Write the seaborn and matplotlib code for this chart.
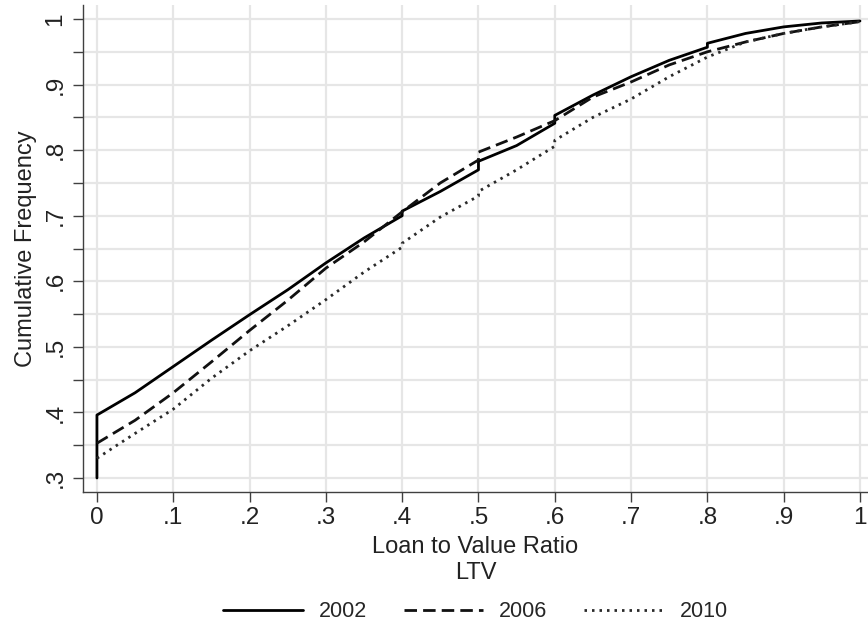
import pandas as pd
import matplotlib
matplotlib.use("Agg")
import matplotlib.pyplot as plt
import seaborn as sns
from matplotlib.ticker import MultipleLocator

################# Data #################

years = ["2002", "2006", "2010"]

ltv_2002 = [0, 0, .05, .1, .15, .2, .25, .3, .35, .4, .4, .45, .5, .5, .55,
            .6, .6, .65, .7, .75, .8, .8, .85, .9, .95, 1]
cum_2002 = [.300, .396, .430, .470, .510, .549, .587, .628, .666, .700, .707,
            .737, .770, .783, .807, .841, .853, .884, .912, .937, .957, .963,
            .978, .988, .994, .997]

ltv_2006 = [0, .05, .1, .15, .2, .25, .3, .35, .4, .45, .5, .5, .55, .6, .65,
            .7, .75, .8, .85, .9, .95, 1]
cum_2006 = [.353, .388, .430, .477, .525, .571, .620, .660, .706, .750, .785,
            .797, .820, .845, .881, .904, .930, .950, .965, .978, .988, .996]

ltv_2010 = [0, .05, .1, .15, .2, .25, .3, .35, .4, .4, .45, .5, .5, .55, .6,
            .6, .65, .7, .75, .8, .85, .9, .95, 1]
cum_2010 = [.330, .368, .405, .452, .494, .532, .572, .614, .652, .658, .698,
            .730, .737, .770, .806, .815, .850, .878, .912, .942, .965, .978,
            .988, .996]

x_ticks = [0, .1, .2, .3, .4, .5, .6, .7, .8, .9, 1]
x_labels = ["0", ".1", ".2", ".3", ".4", ".5", ".6", ".7", ".8", ".9", "1"]
y_ticks = [.3, .4, .5, .6, .7, .8, .9, 1]
y_labels = [".3", ".4", ".5", ".6", ".7", ".8", ".9", "1"]

# long table for seaborn
frames = []
for yr, xs, ys in zip(years, [ltv_2002, ltv_2006, ltv_2010],
                      [cum_2002, cum_2006, cum_2010]):
    frames.append(pd.DataFrame({"LTV": xs, "cum": ys, "year": yr}))
df = pd.concat(frames, ignore_index=True)

################# Plot #################

sns.set_theme(style="white")
plt.rcParams["font.family"] = ["Liberation Sans", "DejaVu Sans"]

fig = plt.figure(figsize=(8.68, 6.24), dpi=100)
ax = fig.add_axes([0.0956, 0.2115, 0.9044, 0.7805])

sns.lineplot(data=df, x="LTV", y="cum", hue="year", style="year",
             estimator=None, sort=False, ax=ax,
             palette={"2002": "black", "2006": "#111111", "2010": "#2a2a2a"},
             dashes={"2002": "", "2006": (4.5, 2.2), "2010": (0.9, 1.8)},
             linewidth=2.0)

ax.set_xlim(-0.0183, 1.0105)
ax.set_ylim(0.2786, 1.0214)

ax.set_xticks(x_ticks, x_labels)
ax.set_yticks(y_ticks, y_labels)
ax.yaxis.set_minor_locator(MultipleLocator(0.05))

ax.grid(True, which="major", color="#e6e6e6", linewidth=1.6)
ax.yaxis.grid(True, which="minor", color="#e6e6e6", linewidth=1.6)
ax.set_axisbelow(True)

for s in ["top", "right"]:
    ax.spines[s].set_visible(False)
for s in ["left", "bottom"]:
    ax.spines[s].set_color("#404040")
    ax.spines[s].set_linewidth(1.0)

ax.tick_params(axis="both", which="both", direction="out", length=7,
               width=1.0, color="#404040", labelsize=17.5, labelcolor="#222222",
               bottom=True, left=True)
ax.tick_params(axis="x", which="minor", bottom=False)
ax.tick_params(axis="x", which="major", pad=4)
ax.tick_params(axis="y", which="both", pad=5)
for lbl in ax.get_yticklabels():
    lbl.set_rotation(90)
    lbl.set_va("center")

ax.set_xlabel("Loan to Value Ratio\nLTV", fontsize=17, color="#222222",
              labelpad=5, linespacing=1.2)
ax.set_ylabel("Cumulative Frequency", fontsize=17, color="#222222",
              labelpad=5)

sns.move_legend(ax, "center", bbox_to_anchor=(0.5, -0.246), ncol=3,
                frameon=False, title=None, fontsize=15.5,
                handlelength=3.7, handletextpad=0.75, columnspacing=1.7)

fig.savefig("out.png", dpi=100)
plt.close(fig)
